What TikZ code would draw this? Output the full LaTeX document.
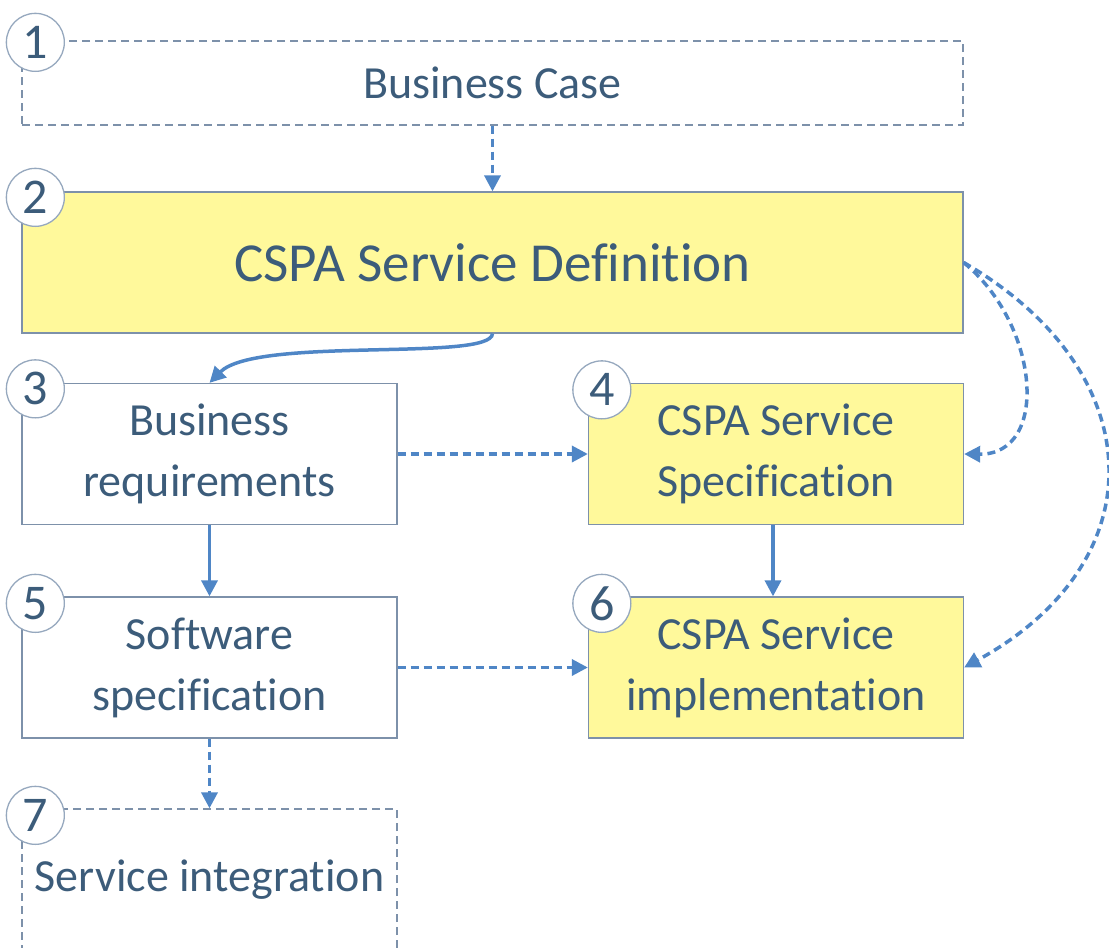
\documentclass[tikz,border=0pt]{standalone}
\usepackage{fontspec}
\setmainfont{Carlito}[Ligatures=NoCommon]
\usetikzlibrary{arrows.meta}

\definecolor{txtblue}{RGB}{60,92,122}
\definecolor{boxline}{RGB}{125,145,170}
\definecolor{arrblue}{RGB}{79,134,198}
\definecolor{boxyellow}{RGB}{255,249,155}
\definecolor{circline}{RGB}{150,168,190}

\begin{document}
\begin{tikzpicture}[x=1pt,y=-1pt,
  box/.style={draw=boxline,line width=1.3pt,minimum width=375pt,minimum height=141pt,
    inner sep=0pt,align=center,text=txtblue,font=\fontsize{46}{61}\selectfont},
  dbox/.style={box,dash pattern=on 8pt off 5pt},
  ybox/.style={box,fill=boxyellow},
  num/.style={circle,draw=circline,line width=1.3pt,fill=white,minimum size=58pt,
    inner sep=0pt,text=txtblue,font=\fontsize{50}{50}\selectfont},
  link/.style={draw=arrblue,line width=3.5pt,-{Triangle[length=16pt,width=16pt]}},
  dlink/.style={link,dash pattern=on 8pt off 5pt}]

\clip (0,0) rectangle (1109,948);

% boxes
\node[dbox,minimum width=941pt,minimum height=84pt] (b1) at (492.5,83) {Business Case};
\node[ybox,minimum width=941pt,font=\fontsize{55}{66}\selectfont] (b2) at (492.5,262.5) {CSPA Service Definition};
\node[box] (b3) at (209.5,454) {Business\\requirements};
\node[ybox] (b4) at (776,454) {CSPA Service\\Specification};
\node[box] (b5) at (209.5,667.5) {Software\\specification};
\node[ybox] (b6) at (776,667.5) {CSPA Service\\implementation};
\node[dbox] (b7) at (209.5,879.5) {Service integration};

% numbers
\foreach \b/\n/\dy in {b1/1/2,b2/2/6,b3/3/6,b4/4/7,b5/5/7,b6/6/7,b7/7/7}
  \node[num] (n\n) at ([shift={(14,\dy)}]\b.north west) {\n};

% links
\draw[dlink] (b1.south) -- (b2.north);
\draw[link] (b2.south) .. controls (491,362) and (256,336) .. (b3.north);
\draw[dlink] (b3.east) -- (b4.west);
\draw[link] (b3.south) -- (b5.north);
\draw[link] (b4.south -| 773,0) -- (b6.north -| 773,0);
\draw[dlink] (b5.east) -- (b6.west);
\draw[dlink] (b5.south) -- (b7.north);
\draw[dlink] (b2.east) .. controls (1040,325) and (1050,455) .. (b4.east);
\draw[dlink] (b2.east) .. controls (1150,370) and (1160,560) .. (b6.east);

\end{tikzpicture}
\end{document}
